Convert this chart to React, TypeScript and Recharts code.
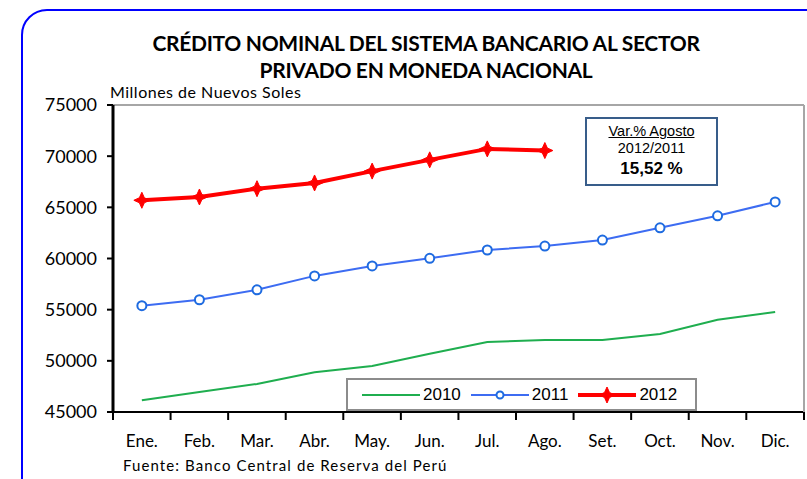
import React from "react";
import { LineChart, Line, XAxis, YAxis } from "recharts";

const months = ["Ene.", "Feb.", "Mar.", "Abr.", "May.", "Jun.", "Jul.", "Ago.", "Set.", "Oct.", "Nov.", "Dic."];
const credit2010 = [46140, 46950, 47740, 48880, 49500, 50700, 51840, 52030, 52030, 52620, 54020, 54770];
const credit2011 = [55390, 55970, 56940, 58300, 59270, 60020, 60830, 61220, 61800, 63000, 64170, 65530];
const credit2012 = [65690, 66010, 66820, 67380, 68540, 69640, 70710, 70550];
const yTicks = [45000, 50000, 55000, 60000, 65000, 70000, 75000];

const data = months.map((m, i) => ({
  month: m,
  y2010: credit2010[i],
  y2011: credit2011[i],
  y2012: i < credit2012.length ? credit2012[i] : null,
}));

const series = [
  { key: "y2010", name: "2010", color: "#1fae4f", width: 2 },
  { key: "y2011", name: "2011", color: "#3d6cf2", width: 2 },
  { key: "y2012", name: "2012", color: "#ff0000", width: 4 },
];

const calibri = "Lato, 'Noto Sans', sans-serif";
const arial = "'Liberation Sans', Arial, sans-serif";

const StarDot = (props: any) => {
  const { cx, cy } = props;
  if (cx == null || cy == null) return null;
  const s = 8;
  const t = 2.5;
  const d = `M${cx},${cy - s} L${cx + t},${cy - t} L${cx + s},${cy} L${cx + t},${cy + t} L${cx},${cy + s} L${cx - t},${cy + t} L${cx - s},${cy} L${cx - t},${cy - t} Z`;
  return <path d={d} fill="#ff0000" stroke="#ff0000" strokeWidth={1} />;
};

const MonthTick = (props: any) => {
  const { x, y, payload, index } = props;
  const half = 28.85;
  return (
    <g>
      <line x1={x - half} y1={y} x2={x - half} y2={y + 8} stroke="#000" strokeWidth={2} />
      {index === months.length - 1 && (
        <line x1={x + half} y1={y} x2={x + half} y2={y + 8} stroke="#000" strokeWidth={2} />
      )}
      <text x={x} y={y + 35} textAnchor="middle" fontFamily={calibri} fontSize={17} fill="#000">
        {payload.value}
      </text>
    </g>
  );
};

const LegendBox = () => (
  <div
    style={{
      position: "absolute",
      left: 346,
      top: 378,
      width: 351,
      height: 33,
      display: "flex",
      alignItems: "center",
      border: "2px solid #8c8c8c",
      background: "#fff",
      paddingLeft: 14,
      boxSizing: "border-box",
      fontFamily: arial,
      fontSize: 17,
      color: "#000",
    }}
  >
    {series.map((s) => (
      <div key={s.key} style={{ display: "flex", alignItems: "center", marginRight: 10 }}>
        <svg width={58} height={20} style={{ marginRight: 3 }}>
          <line x1={0} y1={10} x2={58} y2={10} stroke={s.color} strokeWidth={s.width} />
          {s.key === "y2011" && <circle cx={29} cy={10} r={3.5} fill="#fff" stroke="#1e6be0" strokeWidth={2} />}
          {s.key === "y2012" && <StarDot cx={29} cy={10} />}
        </svg>
        <span>{s.name}</span>
      </div>
    ))}
  </div>
);

export default function App() {
  return (
    <div style={{ position: "absolute", left: 0, top: 0, width: 807, height: 479, background: "#fff", overflow: "hidden" }}>
      <div
        style={{
          position: "absolute",
          left: 21,
          top: 9,
          width: 830,
          height: 520,
          border: "2px solid #0000ff",
          borderRadius: 26,
          boxSizing: "border-box",
        }}
      />
      <div
        style={{
          position: "absolute",
          left: 0,
          width: 852,
          top: 29,
          textAlign: "center",
          fontFamily: calibri,
          fontWeight: 700,
          fontSize: 21,
          lineHeight: "27px",
          letterSpacing: -0.3,
          color: "#000",
        }}
      >
        CRÉDITO NOMINAL DEL SISTEMA BANCARIO AL SECTOR
        <br />
        PRIVADO EN MONEDA NACIONAL
      </div>
      <div style={{ position: "absolute", left: 110, top: 82, fontFamily: calibri, fontSize: 16, letterSpacing: 0.5, color: "#000" }}>
        Millones de Nuevos Soles
      </div>
      <div style={{ position: "absolute", left: 0, top: 0 }}>
        <LineChart width={807} height={479} data={data} margin={{ top: 104, right: 2, bottom: 0, left: 0 }}>
          <XAxis
            dataKey="month"
            height={67}
            padding={{ left: 28.85, right: 28.85 }}
            axisLine={{ stroke: "#000", strokeWidth: 2 }}
            tickLine={false}
            tickSize={0}
            tickMargin={0}
            interval={0}
            tick={<MonthTick />}
          />
          <XAxis
            xAxisId="top"
            orientation="top"
            dataKey="month"
            height={1}
            tick={false}
            tickLine={false}
            axisLine={{ stroke: "#a6a6a6", strokeWidth: 2 }}
          />
          <YAxis
            width={113}
            domain={[45000, 75000]}
            ticks={yTicks}
            interval={0}
            axisLine={{ stroke: "#000", strokeWidth: 3 }}
            tickLine={{ stroke: "#000", strokeWidth: 2 }}
            tickSize={6}
            tickMargin={10}
            tick={{ fill: "#000", fontFamily: calibri, fontSize: 18 }}
          />
          <YAxis yAxisId="right" orientation="right" width={1} tick={false} tickLine={false} axisLine={{ stroke: "#a6a6a6", strokeWidth: 2 }} />
          {series.map((s) => (
            <Line
              key={s.key}
              dataKey={s.key}
              name={s.name}
              stroke={s.color}
              strokeWidth={s.width}
              dot={
                s.key === "y2011"
                  ? { r: 4.5, fill: "#fff", stroke: "#1e6be0", strokeWidth: 2 }
                  : s.key === "y2012"
                  ? <StarDot />
                  : false
              }
              connectNulls={false}
              isAnimationActive={false}
            />
          ))}
        </LineChart>
      </div>
      <LegendBox />
      <div
        style={{
          position: "absolute",
          left: 585,
          top: 117,
          width: 133,
          height: 69,
          border: "2px solid #385d8a",
          boxSizing: "border-box",
          background: "#fff",
          textAlign: "center",
          fontFamily: arial,
          color: "#000",
        }}
      >
        <div style={{ fontSize: 14.5, marginTop: 4, textDecoration: "underline", lineHeight: "17px" }}>Var.% Agosto</div>
        <div style={{ fontSize: 14.5, lineHeight: "17px" }}>2012/2011</div>
        <div style={{ fontSize: 17, fontWeight: 700, lineHeight: "23px" }}>15,52 %</div>
      </div>
      <div style={{ position: "absolute", left: 123, top: 456, fontFamily: calibri, fontSize: 15, letterSpacing: 1.1, color: "#000" }}>
        Fuente: Banco Central de Reserva del Perú
      </div>
    </div>
  );
}
